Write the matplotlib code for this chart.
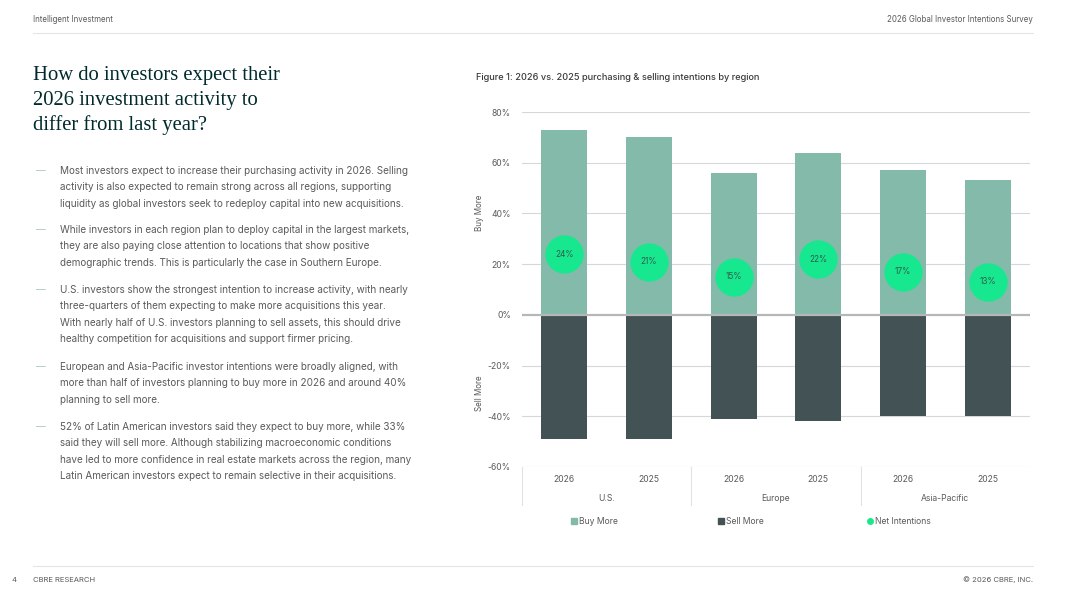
import matplotlib
matplotlib.use("Agg")
import matplotlib.pyplot as plt
from matplotlib.lines import Line2D

# data
regions = ["U.S.", "Europe", "Asia-Pacific"]
years = ["2026", "2025"]
buy_more = [73, 70, 56, 64, 57, 53]
sell_more = [-49, -49, -41, -42, -40, -40]
net_intentions = [24, 21, 15, 22, 17, 13]
y_ticks = [-60, -40, -20, 0, 20, 40, 60, 80]

BUY = "#84BAAA"
SELL = "#435254"
NET = "#17E88F"
GRID = "#D5D8D8"
TEXT = "#5A5A5A"
DARK = "#012A2D"

W, H = 1067, 600
fig = plt.figure(figsize=(W / 100, H / 100), dpi=100)
plt.rcParams["font.family"] = ["Inter", "DejaVu Sans"]


def fx(px):
    return px / W


def fy(py):
    return 1 - py / H


# header / footer
fig.text(fx(33), fy(19), "Intelligent Investment", fontsize=5.7, color=TEXT, va="center")
fig.text(fx(1033), fy(19), "2026 Global Investor Intentions Survey", fontsize=5.7,
         color=TEXT, va="center", ha="right")
fig.add_artist(Line2D([fx(33), fx(1033)], [fy(33), fy(33)], color="#E4E6E6", lw=0.8))
fig.add_artist(Line2D([fx(33), fx(1033)], [fy(566), fy(566)], color="#E4E6E6", lw=0.8))
fig.text(fx(11), fy(580), "4", fontsize=5.5, color=TEXT, va="center")
fig.text(fx(33), fy(580), "CBRE RESEARCH", fontsize=5.5, color=TEXT, va="center")
fig.text(fx(1033), fy(580), "\u00a9 2026 CBRE, INC.", fontsize=5.5, color=TEXT,
         va="center", ha="right")

# headline
title_lines = ["How do investors expect their", "2026 investment activity to",
               "differ from last year?"]
for i, line in enumerate(title_lines):
    fig.text(fx(33), fy(80 + 25 * i), line, fontsize=14.9, color=DARK,
             family="Liberation Serif", va="baseline")

# bullets
bullets = [
    ["Most investors expect to increase their purchasing activity in 2026. Selling",
     "activity is also expected to remain strong across all regions, supporting",
     "liquidity as global investors seek to redeploy capital into new acquisitions."],
    ["While investors in each region plan to deploy capital in the largest markets,",
     "they are also paying close attention to locations that show positive",
     "demographic trends. This is particularly the case in Southern Europe."],
    ["U.S. investors show the strongest intention to increase activity, with nearly",
     "three-quarters of them expecting to make more acquisitions this year.",
     "With nearly half of U.S. investors planning to sell assets, this should drive",
     "healthy competition for acquisitions and support firmer pricing."],
    ["European and Asia-Pacific investor intentions were broadly aligned, with",
     "more than half of investors planning to buy more in 2026 and around 40%",
     "planning to sell more."],
    ["52% of Latin American investors said they expect to buy more, while 33%",
     "said they will sell more. Although stabilizing macroeconomic conditions",
     "have led to more confidence in real estate markets across the region, many",
     "Latin American investors expect to remain selective in their acquisitions."],
]
starts = [171, 230, 290, 367, 427]
for start, lines in zip(starts, bullets):
    fig.text(fx(36), fy(start), "\u2014", fontsize=7, color="#A9C9BF", va="center")
    for j, line in enumerate(lines):
        fig.text(fx(60), fy(start + 16.3 * j), line, fontsize=7.15, color=TEXT, va="center")

fig.text(fx(476), fy(78), "Figure 1: 2026 vs. 2025 purchasing & selling intentions by region",
         fontsize=6.6, color="#3A3A3A", va="center", fontweight="medium")

# chart
ax = fig.add_axes([fx(522), fy(467), fx(1030) - fx(522), (467 - 112) / H])
x = list(range(len(buy_more)))
ax.bar(x, buy_more, width=0.54, color=BUY, zorder=2)
ax.bar(x, sell_more, width=0.54, color=SELL, zorder=2)
ax.scatter(x, net_intentions, s=760, color=NET, zorder=3, linewidths=0)
for xi, v in zip(x, net_intentions):
    ax.text(xi, v, f"{v}%", ha="center", va="center", fontsize=6, color="#2E5E4A", zorder=4)

ax.set_xlim(-0.5, len(buy_more) - 0.5)
ax.set_ylim(y_ticks[0], y_ticks[-1])
ax.set_yticks(y_ticks)
ax.set_yticklabels([f"{t}%" for t in y_ticks], fontsize=6.2, color=TEXT)
ax.tick_params(axis="y", length=0, pad=8)
ax.set_xticks([])
for s in ax.spines.values():
    s.set_visible(False)
for t in y_ticks:
    if t == 0:
        ax.axhline(0, color="#B5B8B8", lw=1.6, zorder=2.5)
    else:
        ax.axhline(t, color=GRID, lw=0.8, zorder=1)

# category axis
trans = ax.get_xaxis_transform()
for i, xi in enumerate(x):
    ax.text(xi, -0.035, years[i % 2], transform=trans, ha="center", va="center",
            fontsize=6.2, color=TEXT)
for g, name in enumerate(regions):
    ax.text(2 * g + 0.5, -0.088, name, transform=trans, ha="center", va="center",
            fontsize=6.2, color=TEXT)
    ax.plot([2 * g - 0.5, 2 * g - 0.5], [0, -0.107], transform=trans, color="#E2E4E4",
            lw=0.8, clip_on=False)

fig.text(fx(479), fy(213), "Buy More", rotation=90, fontsize=5.8, color=TEXT,
         ha="center", va="center")
fig.text(fx(479), fy(393), "Sell More", rotation=90, fontsize=5.8, color=TEXT,
         ha="center", va="center")

# legend
legend_items = [("Buy More", BUY, "s", 574), ("Sell More", SELL, "s", 721),
                ("Net Intentions", NET, "o", 870)]
for label, col, mk, px in legend_items:
    fig.add_artist(Line2D([fx(px)], [fy(521)], marker=mk, color=col, markersize=4,
                          linestyle="none"))
    fig.text(fx(px + 5), fy(521), label, fontsize=6.2, color=TEXT, va="center")

fig.savefig("out.png", dpi=100)
